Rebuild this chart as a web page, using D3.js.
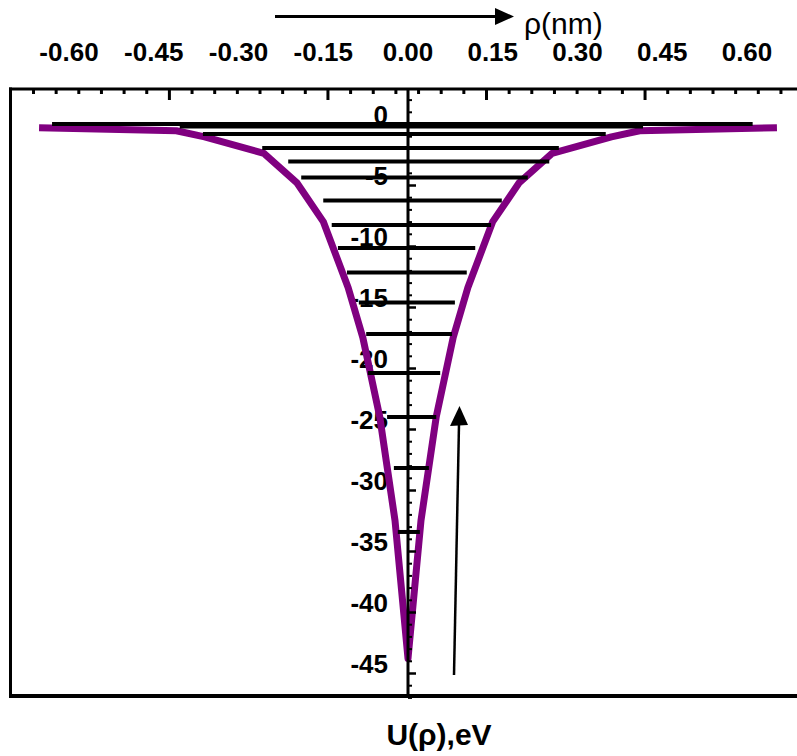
<!DOCTYPE html>
<html><head><meta charset="utf-8">
<script src="https://cdn.jsdelivr.net/npm/d3@7"></script>
<style>body{margin:0;background:#fff} svg{display:block}</style>
</head><body>
<svg id="chart" width="797" height="756"></svg>
<script>
// Potential well U(ρ) (eV) against ρ (nm)
const curveRho = [-0.653, -0.41, -0.36, -0.255, -0.197, -0.15, -0.106, -0.08, -0.05, -0.023, 0.0,
                  0.023, 0.05, 0.08, 0.106, 0.15, 0.197, 0.255, 0.36, 0.41, 0.653];
const curveU   = [-0.30, -0.55, -1.05, -2.4, -4.8, -8.0, -13.4, -17.5, -24.0, -32.5, -43.8,
                  -32.5, -24.0, -17.5, -13.4, -8.0, -4.8, -2.4, -1.05, -0.55, -0.30];

// Energy levels: value (eV) and left / right turning points (nm)
const levelU     = [0.0, -0.2, -0.82, -1.97, -3.07, -4.39, -6.27, -8.28, -10.16, -12.17, -14.63, -17.21, -20.41, -24.02, -28.20, -33.44];
const levelLeft  = [-0.630, -0.404, -0.363, -0.258, -0.212, -0.189, -0.150, -0.135, -0.124, -0.108, -0.087, -0.074, -0.071, -0.037, -0.025, -0.018];
const levelRight = [0.610, 0.416, 0.350, 0.267, 0.250, 0.212, 0.166, 0.147, 0.119, 0.104, 0.083, 0.078, 0.057, 0.050, 0.037, 0.021];

// Axis ticks
const rhoTicks = [-0.60, -0.45, -0.30, -0.15, 0.00, 0.15, 0.30, 0.45, 0.60];
const rhoTickLabels = ["-0.60", "-0.45", "-0.30", "-0.15", "0.00", "0.15", "0.30", "0.45", "0.60"];
const uTicks = [0, -5, -10, -15, -20, -25, -30, -35, -40, -45];
const uTickLabels = ["0", "-5", "-10", "-15", "-20", "-25", "-30", "-35", "-40", "-45"];

const svg = d3.select("#chart");
const FONT = "'Liberation Sans', Arial, sans-serif";

const x = d3.scaleLinear().domain([-0.6, 0.6]).range([69, 747]);
const y = d3.scaleLinear().domain([0, -45]).range([124, 673]);

const frameLeft = 10.5, frameTop = 89, frameBottom = 696, frameRight = 797;

// frame
svg.append("line").attr("x1", frameLeft).attr("x2", frameLeft).attr("y1", frameTop - 1.5).attr("y2", frameBottom + 2)
  .attr("stroke", "#000").attr("stroke-width", 3);
svg.append("line").attr("x1", frameLeft - 1.5).attr("x2", frameRight).attr("y1", frameTop).attr("y2", frameTop)
  .attr("stroke", "#000").attr("stroke-width", 3);
svg.append("line").attr("x1", frameLeft - 1.5).attr("x2", frameRight).attr("y1", frameBottom).attr("y2", frameBottom)
  .attr("stroke", "#000").attr("stroke-width", 4);

// tick marks along the top edge of the frame
const fx = d3.scaleLinear().domain([0, 33]).range([33, 33 + 22.65 * 33]);
const minorTop = d3.range(0, 34).filter(k => (k - 6) % 7 !== 0);
const majorTop = [6, 13, 20, 27];
function topTicks(vals, size, w) {
  const g = svg.append("g").attr("transform", `translate(0,${frameTop})`)
    .call(d3.axisBottom(fx).tickValues(vals).tickSize(size).tickFormat(""));
  g.select(".domain").remove();
  g.selectAll("line").attr("stroke", "#000").attr("stroke-width", w);
}
topTicks(minorTop, 5, 3);
topTicks(majorTop, 11, 3);

// top ρ labels
svg.append("g").selectAll("text").data(rhoTicks).join("text")
  .attr("x", d => x(d)).attr("y", 61)
  .attr("text-anchor", "middle")
  .attr("font-family", FONT).attr("font-weight", "bold").attr("font-size", 26)
  .text((d, i) => rhoTickLabels[i]);

// axis title with arrow
svg.append("line").attr("x1", 275).attr("x2", 498).attr("y1", 16.5).attr("y2", 16.5)
  .attr("stroke", "#000").attr("stroke-width", 3);
svg.append("path").attr("d", "M495,8 L514,16.5 L495,25 Z").attr("fill", "#000");
svg.append("text").attr("x", 524).attr("y", 34)
  .attr("font-family", FONT).attr("font-size", 30).text("ρ(nm)");

// energy labels
svg.append("g").selectAll("text").data(uTicks).join("text")
  .attr("x", 388).attr("y", d => y(d))
  .attr("text-anchor", "end")
  .attr("font-family", FONT).attr("font-weight", "bold").attr("font-size", 26)
  .text((d, i) => uTickLabels[i]);

// potential curve
const curve = curveRho.map((r, i) => [r, curveU[i]]);
svg.append("path").datum(curve)
  .attr("d", d3.line().x(d => x(d[0])).y(d => y(d[1])))
  .attr("fill", "none").attr("stroke", "#800080").attr("stroke-width", 7)
  .attr("stroke-linejoin", "round").attr("stroke-linecap", "butt");

// energy levels
svg.append("g").selectAll("line").data(levelU).join("line")
  .attr("x1", (d, i) => x(levelLeft[i])).attr("x2", (d, i) => x(levelRight[i]))
  .attr("y1", d => y(d)).attr("y2", d => y(d))
  .attr("stroke", "#000").attr("stroke-width", 4);

// vertical U axis through ρ = 0
svg.append("line").attr("x1", x(0)).attr("x2", x(0)).attr("y1", frameTop).attr("y2", frameBottom)
  .attr("stroke", "#000").attr("stroke-width", 3);
function uAxisTicks(vals, size, w) {
  const g = svg.append("g").attr("transform", `translate(${x(0)},0)`)
    .call(d3.axisRight(y).tickValues(vals).tickSize(size).tickFormat(""));
  g.select(".domain").remove();
  g.selectAll("line").attr("stroke", "#000").attr("stroke-width", w);
}
uAxisTicks(d3.range(2, -48, -1).filter(v => v % 5 !== 0), 4, 2);
uAxisTicks(d3.range(0, -50, -5), 8, 2.5);

// upward arrow
svg.append("line").attr("x1", 454).attr("y1", 675).attr("x2", 459).attr("y2", 424)
  .attr("stroke", "#000").attr("stroke-width", 2.5);
svg.append("path").attr("d", "M450,426 L468,425 L459.5,406 Z").attr("fill", "#000");

// bottom title
svg.append("text").attr("x", 439).attr("y", 745)
  .attr("text-anchor", "middle")
  .attr("font-family", FONT).attr("font-weight", "bold").attr("font-size", 30)
  .text("U(ρ),eV");
</script>
</body></html>
